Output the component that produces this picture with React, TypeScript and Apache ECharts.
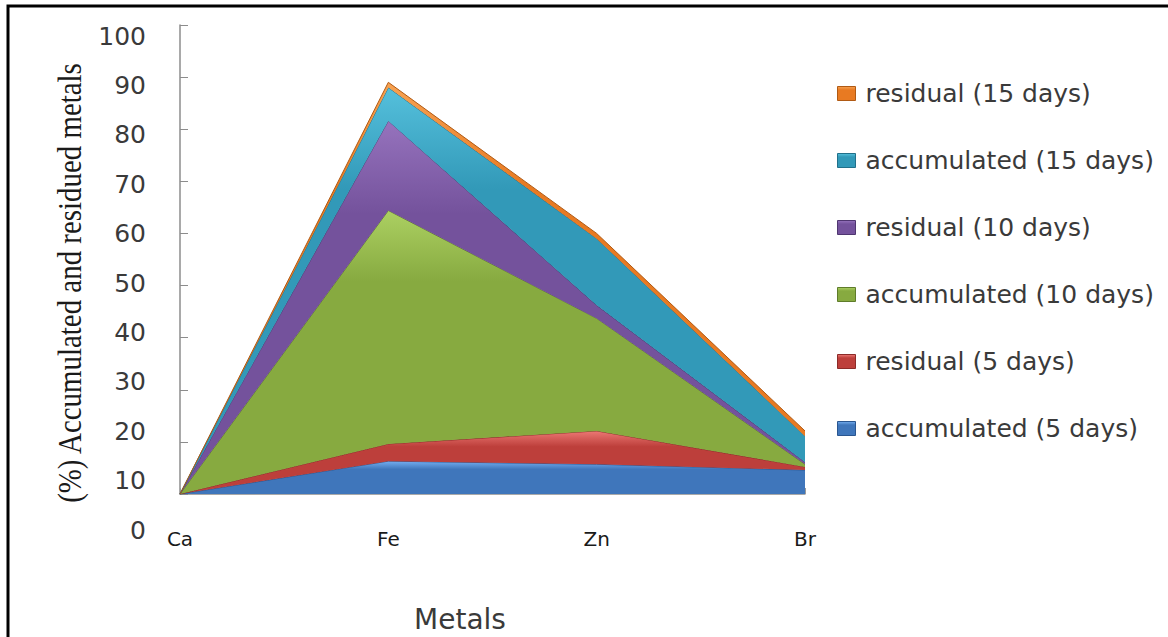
import React, { useEffect, useRef } from "react";
import * as echarts from "echarts";

// Metals on the category axis
const metals = ["Ca", "Fe", "Zn", "Br"];

// Stacked shares (%) per metal, bottom layer first
const accumulated5 = [0, 6.3, 5.7, 4.6];
const residual5 = [0, 3.3, 6.4, 0.6];
const accumulated10 = [0, 44.8, 21.6, 0.5];
const residual10 = [0, 17.2, 2.5, 0.4];
const accumulated15 = [0, 6.4, 12.8, 5.0];
const residual15 = [0, 1.0, 1.0, 1.0];

// Tick labels printed along the value axis
const valueLabels = [0, 10, 20, 30, 40, 50, 60, 70, 80, 90, 100];

const seriesNames = [
  "accumulated (5 days)",
  "residual (5 days)",
  "accumulated (10 days)",
  "residual (10 days)",
  "accumulated (15 days)",
  "residual (15 days)",
];
const seriesData = [accumulated5, residual5, accumulated10, residual10, accumulated15, residual15];

// [light top, base, dark edge]
const palette = [
  ["#74aef0", "#3f76bb", "#2a5690"],
  ["#ec7874", "#bd3f3b", "#8c2b28"],
  ["#acd062", "#87aa40", "#5f7c2a"],
  ["#9673bd", "#74529c", "#4f3670"],
  ["#55c0dc", "#3299b8", "#21708a"],
  ["#f7a252", "#e87a22", "#b05a14"],
];

const grad = (c: string[]) =>
  new echarts.graphic.LinearGradient(0, 0, 0, 1, [
    { offset: 0, color: c[0] },
    { offset: 0.25, color: c[1] },
    { offset: 1, color: c[1] },
  ]);

export default function App() {
  const ref = useRef<HTMLDivElement>(null);

  useEffect(() => {
    if (!ref.current) return;
    const chart = echarts.init(ref.current, undefined, { renderer: "svg" });

    const series = seriesNames.map((name, i) => ({
      name,
      type: "line",
      stack: "total",
      xAxisIndex: 0,
      yAxisIndex: 0,
      data: seriesData[i],
      symbol: "none",
      lineStyle: { width: 1, color: palette[i][2] },
      areaStyle: { color: grad(palette[i]), opacity: 1 },
      z: 2 + i,
    }));

    const legendOrder = [...seriesNames].reverse();

    chart.setOption({
      animation: false,
      backgroundColor: "#ffffff",
      grid: [
        { left: 180, right: 363, top: 25, bottom: 143 },
        { left: 150, top: 36, bottom: 107, width: 1 },
      ],
      xAxis: [
        {
          type: "category",
          gridIndex: 0,
          data: metals,
          boundaryGap: false,
          axisLine: { lineStyle: { color: "#8c8c8c", width: 1.5 } },
          axisTick: { inside: true, length: 6, lineStyle: { color: "#9a9a9a" } },
          axisLabel: {
            margin: 35,
            fontFamily: "DejaVu Sans",
            fontSize: 20,
            color: "#1a1a1a",
          },
        },
        { type: "value", gridIndex: 1, show: false },
      ],
      yAxis: [
        {
          type: "value",
          gridIndex: 0,
          min: 0,
          max: 90,
          interval: 10,
          axisLine: { show: true, lineStyle: { color: "#8c8c8c", width: 1.5 } },
          axisTick: { show: true, inside: true, length: 8, lineStyle: { color: "#8c8c8c" } },
          axisLabel: { show: false },
          splitLine: { show: false },
        },
        {
          type: "value",
          gridIndex: 1,
          min: valueLabels[0],
          max: valueLabels[valueLabels.length - 1],
          interval: valueLabels[1] - valueLabels[0],
          axisLine: { show: false },
          axisTick: { show: false },
          splitLine: { show: false },
          axisLabel: {
            margin: 4,
            fontFamily: "DejaVu Sans",
            fontSize: 25,
            color: "#3a3a3a",
          },
        },
      ],
      legend: {
        orient: "vertical",
        left: 837,
        top: 81,
        padding: 0,
        itemGap: 42,
        itemWidth: 18,
        itemHeight: 14,
        icon: "rect",
        data: legendOrder.map((name) => {
          const i = seriesNames.indexOf(name);
          return {
            name,
            itemStyle: { color: grad(palette[i]), borderColor: palette[i][2], borderWidth: 1 },
          };
        }),
        textStyle: {
          fontFamily: "DejaVu Sans",
          fontSize: 25,
          lineHeight: 25,
          color: "#3a3a3a",
          padding: [0, 0, 0, 5],
        },
      },
      graphic: [
        {
          type: "rect",
          shape: { x: 8, y: 6, width: 1200, height: 700 },
          style: { fill: "none", stroke: "#000000", lineWidth: 3 },
          silent: true,
        },
        {
          type: "text",
          x: 70,
          y: 283,
          rotation: Math.PI / 2,
          scaleX: 0.85,
          style: {
            text: "(%) Accumulated and residued metals",
            fontFamily: "Liberation Serif",
            fontSize: 34,
            fill: "#1a1a1a",
            textAlign: "center",
            textVerticalAlign: "middle",
          },
        },
        {
          type: "text",
          x: 460,
          y: 619,
          style: {
            text: "Metals",
            fontFamily: "DejaVu Sans",
            fontSize: 28,
            fill: "#3a3a3a",
            textAlign: "center",
            textVerticalAlign: "middle",
          },
        },
      ],
      series,
    });

    return () => chart.dispose();
  }, []);

  return (
    <div
      ref={ref}
      style={{ position: "fixed", left: 0, top: 0, width: 1168, height: 637 }}
    />
  );
}
